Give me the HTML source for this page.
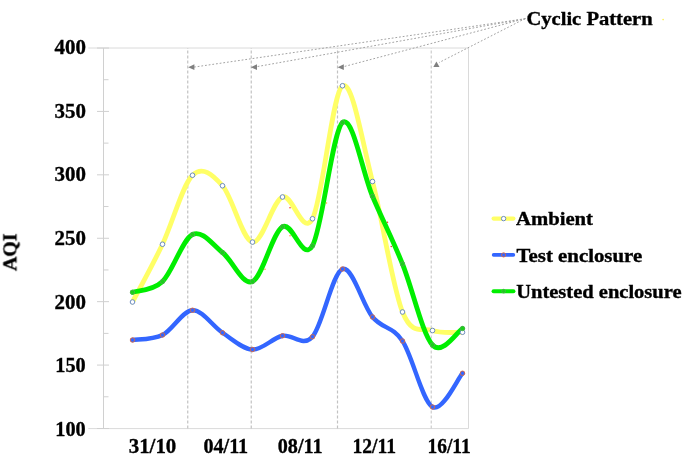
<!DOCTYPE html><html><head><meta charset="utf-8"><style>html,body{margin:0;padding:0;background:#fff}svg{display:block}text{font-family:"Liberation Serif",serif;font-weight:bold;font-size:18.4px;fill:#000;stroke:#000;stroke-width:0.35px}</style></head><body>
<svg width="685" height="456" viewBox="0 0 685 456">
<rect width="685" height="456" fill="#fff"/>
<g id="fx" style="filter:blur(0.7px)">
<g stroke="#d0d0d0" stroke-width="1" fill="none">
<path d="M88.3 48H468.5V428.6H88.3" stroke="#dadada"/>
<path d="M103.5 48V428.5"/>
<path d="M97 48.00H109"/>
<path d="M97 111.42H109"/>
<path d="M97 174.83H109"/>
<path d="M97 238.25H109"/>
<path d="M97 301.67H109"/>
<path d="M97 365.08H109"/>
<path d="M97 428.50H109"/>
<path d="M103.5 79.71H108.5"/>
<path d="M103.5 143.12H108.5"/>
<path d="M103.5 206.54H108.5"/>
<path d="M103.5 269.96H108.5"/>
<path d="M103.5 333.38H108.5"/>
<path d="M103.5 396.79H108.5"/>
</g>
<g stroke="#c2c2c2" stroke-width="1.2" stroke-dasharray="3 2" fill="none">
<path d="M187.75 428.5V48"/>
<path d="M251.25 428.5V48"/>
<path d="M337.50 428.5V48"/>
<path d="M431.25 428.5V48" stroke="#cdcdcd"/>
</g>
<g stroke="#a2a2a2" stroke-width="1" stroke-dasharray="1.8 1.9" fill="none">
<path d="M525.3 18.7L194.0 67.1"/>
<path d="M525.3 18.7L256.5 66.7"/>
<path d="M525.3 18.6L343.5 66.7"/>
<path d="M525.3 18.5L439.0 62.6"/>
</g>
<g fill="#808080">
<path d="M188.2 67.2l6.2 -2.9v5.6z"/>
<path d="M250.8 67.2l6.2 -2.9v5.6z"/>
<path d="M337.6 67.2l6.2 -2.9v5.6z"/>
<path d="M436.4 61.6l3.1 5.4h-6.2z"/>
</g>
<path d="M132.50 302.00 C137.50 292.38 152.50 265.38 162.50 244.25 C172.50 223.12 182.50 185.00 192.50 175.25 C202.50 165.50 212.50 174.61 222.50 185.75 C232.50 196.89 242.50 240.22 252.50 242.10 C262.50 243.97 272.50 200.89 282.50 197.00 C292.50 193.11 302.50 237.29 312.50 218.75 C322.50 200.21 332.50 91.96 342.50 85.75 C352.50 79.54 362.50 143.79 372.50 181.50 C382.50 219.21 392.50 287.17 402.50 312.00 C412.50 336.83 422.50 327.12 432.50 330.50 C442.50 333.88 457.50 331.96 462.50 332.25" fill="none" stroke="#ffff66" stroke-width="4.8" stroke-linecap="round" stroke-linejoin="round"/>
<path d="M132.50 340.00 C137.50 339.17 152.50 339.96 162.50 335.00 C172.50 330.04 182.50 310.62 192.50 310.25 C202.50 309.88 212.50 326.21 222.50 332.75 C232.50 339.29 242.50 349.00 252.50 349.50 C262.50 350.00 272.50 337.88 282.50 335.75 C292.50 333.62 302.50 347.88 312.50 336.75 C322.50 325.62 332.50 272.29 342.50 269.00 C352.50 265.71 362.50 305.00 372.50 317.00 C382.50 329.00 392.50 326.00 402.50 341.00 C412.50 356.00 422.50 401.62 432.50 407.00 C442.50 412.38 457.50 378.88 462.50 373.25" fill="none" stroke="#3366ff" stroke-width="4.4" stroke-linecap="round" stroke-linejoin="round"/>
<path d="M132.50 292.25 C137.50 290.46 152.50 291.12 162.50 281.50 C172.50 271.88 182.50 239.33 192.50 234.50 C202.50 229.67 212.50 244.67 222.50 252.50 C232.50 260.33 242.50 285.79 252.50 281.50 C262.50 277.21 272.50 232.71 282.50 226.75 C292.50 220.79 302.50 263.12 312.50 245.75 C322.50 228.38 332.50 130.75 342.50 122.50 C352.50 114.25 362.50 172.67 372.50 196.25 C382.50 219.83 392.50 239.21 402.50 264.00 C412.50 288.79 422.50 334.25 432.50 345.00 C442.50 355.75 457.50 331.25 462.50 328.50" fill="none" stroke="#00ee00" stroke-width="4.8" stroke-linecap="round" stroke-linejoin="round"/>
<g fill="#fff" stroke="#5b7fc4" stroke-width="0.9">
<circle cx="132.50" cy="302.00" r="2.3"/>
<circle cx="162.50" cy="244.25" r="2.3"/>
<circle cx="192.50" cy="175.25" r="2.3"/>
<circle cx="222.50" cy="185.75" r="2.3"/>
<circle cx="252.50" cy="242.10" r="2.3"/>
<circle cx="282.50" cy="197.00" r="2.3"/>
<circle cx="312.50" cy="218.75" r="2.3"/>
<circle cx="342.50" cy="85.75" r="2.3"/>
<circle cx="372.50" cy="181.50" r="2.3"/>
<circle cx="402.50" cy="312.00" r="2.3"/>
<circle cx="432.50" cy="330.50" r="2.3"/>
<circle cx="462.50" cy="332.25" r="2.3"/>
</g>
<g fill="#3366ff" stroke="#e0693a" stroke-width="0.9">
<circle cx="132.50" cy="340.00" r="2.25"/>
<circle cx="162.50" cy="335.00" r="2.25"/>
<circle cx="192.50" cy="310.25" r="2.25"/>
<circle cx="222.50" cy="332.75" r="2.25"/>
<circle cx="252.50" cy="349.50" r="2.25"/>
<circle cx="282.50" cy="335.75" r="2.25"/>
<circle cx="312.50" cy="336.75" r="2.25"/>
<circle cx="342.50" cy="269.00" r="2.25"/>
<circle cx="372.50" cy="317.00" r="2.25"/>
<circle cx="402.50" cy="341.00" r="2.25"/>
<circle cx="432.50" cy="407.00" r="2.25"/>
<circle cx="462.50" cy="373.25" r="2.25"/>
</g>
<g fill="#19d219" stroke="#4fae4f" stroke-width="0.9">
<circle cx="132.50" cy="292.25" r="2.2"/>
<circle cx="162.50" cy="281.50" r="2.2"/>
<circle cx="192.50" cy="234.50" r="2.2"/>
<circle cx="222.50" cy="252.50" r="2.2"/>
<circle cx="252.50" cy="281.50" r="2.2"/>
<circle cx="282.50" cy="226.75" r="2.2"/>
<circle cx="312.50" cy="245.75" r="2.2"/>
<circle cx="342.50" cy="122.50" r="2.2"/>
<circle cx="372.50" cy="196.25" r="2.2"/>
<circle cx="402.50" cy="264.00" r="2.2"/>
<circle cx="432.50" cy="345.00" r="2.2"/>
<circle cx="462.50" cy="328.50" r="2.2"/>
</g>
<circle cx="290.00" cy="207.75" r="0.75" fill="#f03020"/>
<circle cx="290.00" cy="235.75" r="0.75" fill="#ff9030"/>
<circle cx="326.50" cy="203.00" r="0.75" fill="#ffb030"/>
<circle cx="387.50" cy="222.25" r="0.75" fill="#f03020"/>
<circle cx="391.25" cy="246.50" r="0.75" fill="#f03020"/>
<circle cx="265.00" cy="269.25" r="0.75" fill="#ffa030"/>
<path d="M493.6 218.6H513.4" stroke="#ffff66" stroke-width="4.2" stroke-linecap="round"/>
<path d="M493.6 254.9H513.4" stroke="#3366ff" stroke-width="3.6" stroke-linecap="round"/>
<path d="M493.6 291.2H513.4" stroke="#00ee00" stroke-width="4.1" stroke-linecap="round"/>
<circle cx="503.6" cy="218.6" r="2.2" fill="#fff" stroke="#5b7fc4" stroke-width="0.9"/>
<circle cx="503.6" cy="254.9" r="2.1" fill="#3366ff" stroke="#e0693a" stroke-width="0.9"/>
<circle cx="503.6" cy="291.2" r="1.9" fill="#19d219" stroke="#4fae4f" stroke-width="0.8"/>
<text x="516" y="225" textLength="77" lengthAdjust="spacingAndGlyphs">Ambient</text>
<text x="516.6" y="261.6" textLength="125.6" lengthAdjust="spacingAndGlyphs">Test enclosure</text>
<text x="516.2" y="298" textLength="165.4" lengthAdjust="spacingAndGlyphs">Untested enclosure</text>
<text style="font-size:19.2px" x="526.4" y="24.7" textLength="126.3" lengthAdjust="spacingAndGlyphs">Cyclic Pattern</text>
<circle cx="663.1" cy="19.6" r="0.8" fill="#ffee44"/>
<text style="font-size:20.3px" x="54.6" y="54.20" textLength="31.4" lengthAdjust="spacingAndGlyphs">400</text>
<text style="font-size:20.3px" x="54.6" y="117.78" textLength="31.4" lengthAdjust="spacingAndGlyphs">350</text>
<text style="font-size:20.3px" x="54.6" y="181.36" textLength="31.4" lengthAdjust="spacingAndGlyphs">300</text>
<text style="font-size:20.3px" x="54.6" y="244.94" textLength="31.4" lengthAdjust="spacingAndGlyphs">250</text>
<text style="font-size:20.3px" x="54.6" y="308.52" textLength="31.4" lengthAdjust="spacingAndGlyphs">200</text>
<text style="font-size:20.3px" x="55.3" y="372.10" textLength="30.4" lengthAdjust="spacingAndGlyphs">150</text>
<text style="font-size:20.3px" x="55.3" y="435.68" textLength="30.4" lengthAdjust="spacingAndGlyphs">100</text>
<text style="font-size:20.5px" x="128.70" y="453.1" textLength="47.6" lengthAdjust="spacingAndGlyphs">31/10</text>
<text style="font-size:20.5px" x="203.40" y="453.1" textLength="44.8" lengthAdjust="spacingAndGlyphs">04/11</text>
<text style="font-size:20.5px" x="277.75" y="453.1" textLength="44.8" lengthAdjust="spacingAndGlyphs">08/11</text>
<text style="font-size:20.5px" x="352.40" y="453.1" textLength="43.6" lengthAdjust="spacingAndGlyphs">12/11</text>
<text style="font-size:20.5px" x="427.50" y="453.1" textLength="43.2" lengthAdjust="spacingAndGlyphs">16/11</text>
<text style="font-size:19px" transform="translate(16.4 252.2) rotate(-90)" x="-18.7" textLength="37.4" lengthAdjust="spacingAndGlyphs">AQI</text>
</g>
</svg></body></html>
